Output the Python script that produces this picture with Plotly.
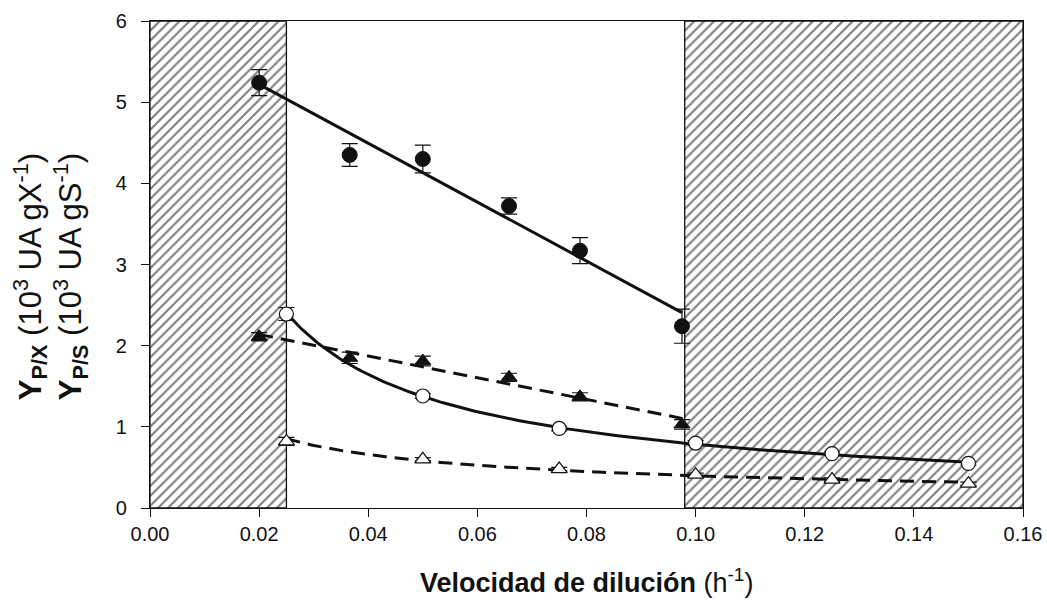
import numpy as np
import plotly.graph_objects as go

# Dilution rates (h^-1)
d_run1 = [0.020, 0.0366, 0.050, 0.0658, 0.0788, 0.0975]
d_run2 = [0.025, 0.050, 0.075, 0.100, 0.125, 0.150]

# Filled symbols: yields with standard deviations (10^3 UA g^-1)
ypx_run1 = [5.24, 4.35, 4.30, 3.72, 3.17, 2.24]
ypx_run1_err = [0.16, 0.14, 0.17, 0.10, 0.16, 0.21]
yps_run1 = [2.11, 1.85, 1.81, 1.61, 1.37, 1.03]
yps_run1_err = [0.05, 0.07, 0.06, 0.05, 0.05, 0.06]

# Open symbols
ypx_run2 = [2.39, 1.38, 0.98, 0.80, 0.67, 0.55]
ypx_run2_err = [0.08, 0.03, 0.03, 0.03, 0.02, 0.02]
yps_run2 = [0.82, 0.60, 0.48, 0.41, 0.35, 0.30]
yps_run2_err = [0.05, 0.02, 0.02, 0.02, 0.02, 0.02]

# Hatched dilution-rate ranges
hatch_ranges = [(0.0, 0.025), (0.098, 0.16)]

x_ticks = [0.00, 0.02, 0.04, 0.06, 0.08, 0.10, 0.12, 0.14, 0.16]
y_ticks = [0, 1, 2, 3, 4, 5, 6]

FONT = "Arial, Liberation Sans, sans-serif"
INK = "#111111"

fig = go.Figure()

# hatched bands
for x0, x1 in hatch_ranges:
    fig.add_trace(go.Scatter(
        x=[x0, x1, x1, x0, x0], y=[0, 0, 6, 6, 0],
        mode="lines", fill="toself",
        fillpattern=dict(shape="/", size=7, solidity=0.3,
                         fgcolor="#000000", bgcolor="white"),
        line=dict(color=INK, width=1.3),
        hoverinfo="skip", showlegend=False,
    ))


def linear_fit(x, y):
    k, c = np.polyfit(x, y, 1)
    xs = np.linspace(min(x), max(x), 60)
    return xs, k * xs + c


def power_fit(x, y):
    b, lna = np.polyfit(np.log(x), np.log(y), 1)
    xs = np.linspace(min(x), max(x), 200)
    return xs, np.exp(lna) * xs ** b


# fitted curves
for fit, x, y, dash in [
    (linear_fit, d_run1, ypx_run1, "solid"),
    (linear_fit, d_run1, yps_run1, "14px,8px"),
    (power_fit, d_run2, ypx_run2, "solid"),
    (power_fit, d_run2, yps_run2, "14px,8px"),
]:
    xs, ys = fit(x, y)
    fig.add_trace(go.Scatter(x=xs, y=ys, mode="lines",
                             line=dict(color=INK, width=3, dash=dash),
                             hoverinfo="skip", showlegend=False))


def err(vals):
    return dict(type="data", array=vals, visible=True,
                color=INK, thickness=1.2, width=8)


# measured points
fig.add_trace(go.Scatter(
    x=d_run1, y=ypx_run1, mode="markers", error_y=err(ypx_run1_err),
    marker=dict(symbol="circle", size=15, color=INK,
                line=dict(color=INK, width=1)),
    showlegend=False))
fig.add_trace(go.Scatter(
    x=d_run1, y=yps_run1, mode="markers", error_y=err(yps_run1_err),
    marker=dict(symbol="triangle-up", size=14, color=INK,
                line=dict(color=INK, width=1)),
    showlegend=False))
fig.add_trace(go.Scatter(
    x=d_run2, y=ypx_run2, mode="markers", error_y=err(ypx_run2_err),
    marker=dict(symbol="circle", size=14, color="white",
                line=dict(color=INK, width=1.2)),
    showlegend=False))
fig.add_trace(go.Scatter(
    x=d_run2, y=yps_run2, mode="markers", error_y=err(yps_run2_err),
    marker=dict(symbol="triangle-up", size=14, color="white",
                line=dict(color=INK, width=1.2)),
    showlegend=False))

axis_common = dict(
    showgrid=False, zeroline=False, showline=True, linecolor=INK,
    linewidth=1.3, mirror=True, ticks="outside", ticklen=8,
    tickwidth=1.2, tickcolor=INK, automargin=False,
    tickfont=dict(family=FONT, size=20, color=INK),
)

fig.update_layout(
    width=1047, height=602,
    margin=dict(l=150, r=24, t=21, b=94),
    paper_bgcolor="white", plot_bgcolor="white",
    xaxis=dict(range=[0, 0.16], tickvals=x_ticks,
               ticktext=[f"{v:.2f}" for v in x_ticks], **axis_common),
    yaxis=dict(range=[0, 6], tickvals=y_ticks,
               ticktext=[str(v) for v in y_ticks],
               ticklabelstandoff=10, **axis_common),
    annotations=[
        dict(text="<b>Velocidad de dilución</b> (h<sup>-1</sup>)",
             x=0.5, y=-0.15, xref="paper", yref="paper",
             xanchor="center", yanchor="middle", showarrow=False,
             font=dict(family=FONT, size=27, color=INK)),
        dict(text=("<b>Y<sub>P/X</sub></b> (10<sup>3</sup> UA gX<sup>-1</sup>)"
                   "<br><b>Y<sub>P/S</sub></b> (10<sup>3</sup> UA gS<sup>-1</sup>)"),
             x=-0.114, y=0.475, xref="paper", yref="paper",
             xanchor="center", yanchor="middle", showarrow=False,
             textangle=-90,
             font=dict(family=FONT, size=31, color=INK)),
    ],
)

fig.write_html("out.html")
